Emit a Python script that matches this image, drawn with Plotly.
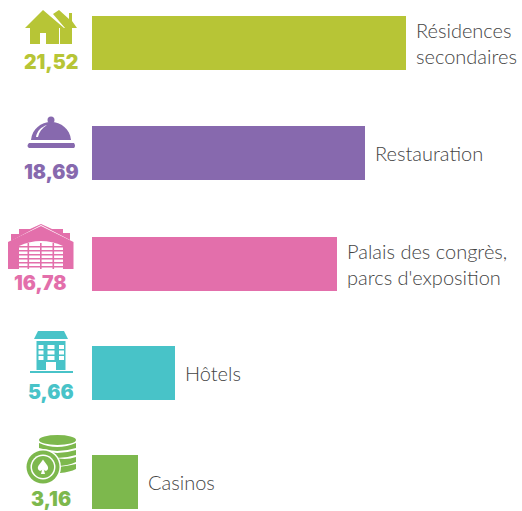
import plotly.graph_objects as go

categories = ["Résidences<br>secondaires", "Restauration", "Palais des congrès,<br>parcs d'exposition", "Hôtels", "Casinos"]
values = [21.52, 18.69, 16.78, 5.66, 3.16]
value_labels = ["21,52", "18,69", "16,78", "5,66", "3,16"]
colors = ["#B7C536", "#8769AE", "#E36FAB", "#48C3C8", "#7DB84D"]

W, H = 522, 511
PX_PER_UNIT = 14.58
ROW_Y = [43, 153, 264, 373, 482]
NUM_X = [51, 51, 40, 51, 51]
NUM_Y = [62, 172, 283, 392, 499]

fig = go.Figure(go.Bar(
    x=values, y=ROW_Y, orientation="h", width=54,
    marker=dict(color=colors, line=dict(width=0)),
    hoverinfo="skip", showlegend=False,
))

for v, cat, ry in zip(values, categories, ROW_Y):
    fig.add_annotation(x=v, y=ry, xref="x", yref="y", text=cat, showarrow=False,
                       xanchor="left", yanchor="middle", align="left", xshift=8,
                       font=dict(family="Lato", size=20, color="#444444", weight=300))
for lab, col, nx, ny in zip(value_labels, colors, NUM_X, NUM_Y):
    fig.add_annotation(x=nx, y=ny, xref="x2", yref="y", text=lab, showarrow=False,
                       xanchor="center", yanchor="middle", borderpad=0,
                       font=dict(family="Inter", size=19.5, color=col, weight=900))

shapes = []
def path(d, color, **kw):
    shapes.append(dict(type="path", path=d, xref="x2", yref="y", fillcolor=color,
                       line=dict(width=0), layer="above", **kw))
def rect(x0, y0, x1, y1, color):
    shapes.append(dict(type="rect", x0=x0, y0=y0, x1=x1, y1=y1, xref="x2", yref="y",
                       fillcolor=color, line=dict(width=0), layer="above"))
def circle(cx, cy, rx, ry, color):
    shapes.append(dict(type="circle", x0=cx-rx, y0=cy-ry, x1=cx+rx, y1=cy+ry, xref="x2", yref="y",
                       fillcolor=color, line=dict(width=0), layer="above"))

# house icon
c = colors[0]
path("M53,14 L59,10 L69,19 L69,13 L72,13 L72,21 L77,28 L72,28 L72,44 L60,44 L60,28 L65,28 Z", c)
path("M25,28 L43,10 L64,28 L59,28 L59,44 L46,44 L46,33 L40,33 L40,44 L30,44 L30,28 Z", c)

# cloche icon
c = colors[1]
circle(51, 120, 3.5, 3.5, c)
path("M31,140 C32,129 41,122 51,122 C61,122 70,129 71,140 Z", c)
path("M29,143 L74,143 Q76,146 74,148 L29,148 Q26,146 29,143 Z", c)
path("M36,137 C37,131 41,127 47,125 C42,128 39,132 38,137 Z", "#ffffff")

# hall icon
c = colors[2]
path("M11,234 L19,234 L19,229 L30,229 L41,224 L52,229 L63,229 L63,233 L70,233 L70,240 L41,225 L11,241 Z", c)
path("M8,242 L41,226 L73.5,242 L73.5,269 L8,269 Z", c)
path("M19,269 L19,246 Q41,236 63,246 L63,269 Z", "#ffffff")
for y in [246, 250, 254, 258, 262, 266]:
    rect(19, y, 63, y+1.6, c)
for x in [27.5, 40, 52.5]:
    rect(x, 243, x+1.6, 269, c)

# hotel icon
c = colors[3]
path("M38,331 L64,331 L68,339 L34,339 Z", c)
rect(36.5, 341, 65.5, 370, c)
rect(30, 371, 73, 373, c)
for yy in [345, 350.5, 356]:
    for xx, w in [(38.5, 5), (47.5, 7), (59, 5)]:
        rect(xx, yy, xx+w, yy+4, "#ffffff")
rect(46, 362, 56, 370, "#ffffff")

# chips icon
c = colors[4]
circle(57.5, 440, 18.5, 5, c)
path("M39,443 Q57,451 76,443 L76,448 Q57,454 39,448 Z", c)
path("M39,450 Q57,456 76,450 L76,455 Q57,461 39,455 Z", c)
path("M52,457 Q65,461 76,457 L76,462 Q68,466 56,466 Z", c)
path("M58,467 Q68,466 76,464 L76,469 Q70,472 60,473 Z", c)
circle(43, 467, 18, 18, "#ffffff")
circle(43, 467, 16.5, 16.5, c)
circle(43, 467, 12.5, 12.5, "#ffffff")
circle(43, 467, 11, 11, c)
path("M43,459.5 C45,463 49,466 48,469 C47,471.5 44.5,471 43.8,469.5 L45,474 L41,474 L42.2,469.5 C41.5,471 39,471.5 38,469 C37,466 41,463 43,459.5 Z", "#ffffff")

fig.update_layout(
    width=W, height=H, autosize=False,
    margin=dict(l=0, r=0, t=0, b=0),
    paper_bgcolor="#ffffff", plot_bgcolor="#ffffff",
    bargap=0, shapes=shapes,
    xaxis=dict(range=[-92/PX_PER_UNIT, (W-92)/PX_PER_UNIT], visible=False, fixedrange=True),
    xaxis2=dict(range=[0, W], visible=False, overlaying="x", fixedrange=True),
    yaxis=dict(range=[H, 0], visible=False, fixedrange=True),
)
fig.add_trace(go.Scatter(x=[0], y=[0], xaxis="x2", yaxis="y", mode="markers",
                         marker=dict(opacity=0), hoverinfo="skip", showlegend=False))
fig.write_html("out.html", config=dict(displayModeBar=False, responsive=False),
               post_script="document.body.style.margin='0';")
